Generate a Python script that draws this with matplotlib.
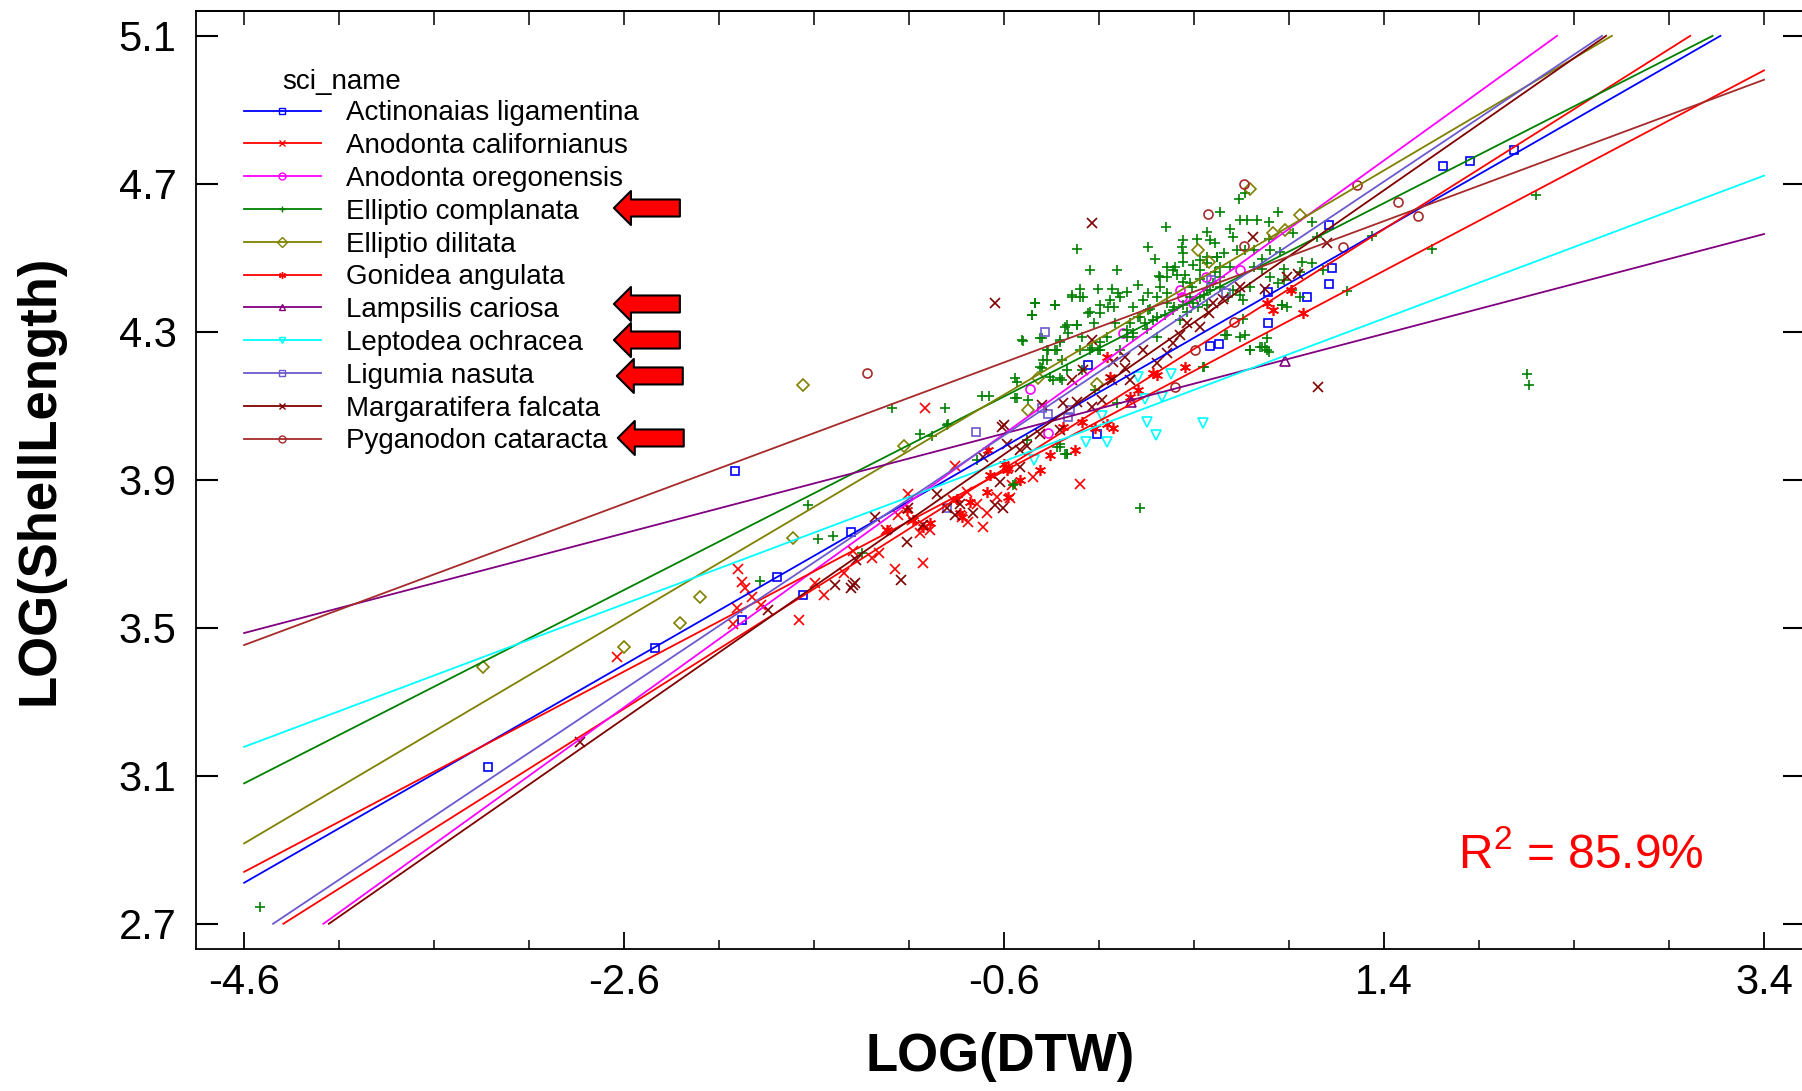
import matplotlib.pyplot as plt
from matplotlib.lines import Line2D
from matplotlib.ticker import FormatStrFormatter, NullFormatter
import numpy as np

plt.rcParams['font.family'] = ['Liberation Sans', 'DejaVu Sans']
plt.rcParams['axes.unicode_minus'] = False
plt.rcParams['mathtext.fontset'] = 'custom'
plt.rcParams['mathtext.rm'] = 'Liberation Sans'

# species, styles and fitted lines (intercept at LOG(DTW)=0, slope)
species = ['Actinonaias ligamentina', 'Anodonta californianus', 'Anodonta oregonensis',
           'Elliptio complanata', 'Elliptio dilitata', 'Gonidea angulata',
           'Lampsilis cariosa', 'Leptodea ochracea', 'Ligumia nasuta',
           'Margaratifera falcata', 'Pyganodon cataracta']
colors = ['#0000FF', '#FF0000', '#FF00FF', '#008000', '#808000', '#FF0000',
          '#800080', '#00FFFF', '#6A5ACD', '#800000', '#A52A2A']
markers = ['s', 'x', 'o', '+', 'D', (6, 2, 0), '^', 'v', 's', 'x', 'o']
msizes = [6, 7.5, 6.5, 7, 6, 8, 7, 7, 6, 7.5, 6.5]
intercepts = [4.166, 4.124, 4.246, 4.282, 4.312, 4.086, 4.106, 4.066, 4.226, 4.183, 4.332]
slopes = [0.2946, 0.3241, 0.3696, 0.2614, 0.3032, 0.2708, 0.1348, 0.1930, 0.3431, 0.3570, 0.1910]

actinonaias = [(-3.316, 3.123), (-2.437, 3.446), (-2.016, 3.924), (-1.977, 3.521), (-1.795, 3.638),
               (-1.660, 3.588), (-1.405, 3.759), (-0.109, 4.025), (-0.158, 4.210), (0.484, 4.261),
               (0.532, 4.266), (0.789, 4.324), (0.789, 4.408), (0.993, 4.394), (1.109, 4.428),
               (1.126, 4.472), (1.109, 4.590), (1.709, 4.748), (1.853, 4.761), (2.084, 4.791)]
californianus = [(-2.638, 3.422), (-2.002, 3.659), (-1.978, 3.624), (-1.965, 3.607), (-1.928, 3.584),
                 (-2.005, 3.554), (-2.026, 3.509), (-1.882, 3.561), (-1.679, 3.521), (-1.549, 3.588),
                 (-1.595, 3.620), (-1.442, 3.647), (-1.396, 3.708), (-1.296, 3.690), (-1.256, 3.701),
                 (-1.221, 3.764), (-1.174, 3.658), (-1.028, 3.676), (-1.104, 3.863), (-1.014, 4.093),
                 (-0.858, 3.937), (-0.796, 3.868), (-0.788, 3.786), (-0.712, 3.773), (-0.691, 3.809),
                 (-0.446, 3.908), (-0.198, 3.888), (-0.989, 3.764), (-0.559, 3.886), (-1.158, 3.805),
                 (-0.823, 3.800), (-0.744, 3.836), (-0.639, 3.854), (-0.568, 3.850), (-0.867, 3.845),
                 (-1.086, 3.791), (-1.042, 3.755)]
oregonensis = [(-0.463, 4.146), (-0.370, 4.027), (0.024, 4.298), (0.326, 4.413), (0.335, 4.395),
               (0.396, 4.377), (0.462, 4.449), (0.642, 4.467)]
complanata = [(0.634, 4.658), (0.669, 4.674), (0.537, 4.624), (0.253, 4.584), (0.643, 4.602),
              (0.678, 4.602), (0.730, 4.602), (0.797, 4.597), (0.844, 4.624), (-0.217, 4.523),
              (0.155, 4.528), (0.344, 4.548), (0.335, 4.530), (0.341, 4.512), (0.341, 4.489),
              (0.414, 4.552), (0.467, 4.570), (0.485, 4.548), (0.511, 4.539), (0.590, 4.579),
              (0.607, 4.557), (0.625, 4.521), (0.669, 4.521), (0.713, 4.521), (0.757, 4.498),
              (0.800, 4.521), (0.853, 4.516), (1.020, 4.597), (1.046, 4.557), (0.967, 4.489),
              (1.020, 4.485), (1.335, 4.559), (1.204, 4.411), (0.862, 4.372), (0.783, 4.282),
              (0.774, 4.259), (0.695, 4.250), (0.757, 4.259), (0.792, 4.246), (0.669, 4.291),
              (0.564, 4.291), (0.660, 4.336), (0.450, 4.205), (0.116, 3.823), (-0.147, 4.467),
              (-0.007, 4.467), (-0.200, 4.417), (-0.103, 4.417), (-0.243, 4.395), (-0.186, 4.395),
              (-0.436, 4.377), (-0.331, 4.372), (-0.454, 4.345), (-0.156, 4.352), (-0.094, 4.350),
              (-0.129, 4.323), (-0.217, 4.318), (-0.279, 4.314), (-0.261, 4.296), (-0.191, 4.287),
              (-0.401, 4.282), (-0.305, 4.273), (-0.501, 4.275), (-0.375, 4.250), (-0.322, 4.250),
              (-0.147, 4.252), (-0.103, 4.250), (-0.375, 4.223), (-0.296, 4.223), (-0.401, 4.201),
              (-0.340, 4.169), (-0.296, 4.171), (-0.191, 4.196), (-0.533, 4.165), (-0.472, 4.117),
              (-0.533, 4.120), (-0.717, 4.126), (-0.677, 4.126), (-0.910, 4.093), (-1.045, 4.023),
              (-0.980, 4.018), (-0.893, 4.050), (-0.033, 4.417), (0.002, 4.404), (0.046, 4.408),
              (0.107, 4.426), (-0.051, 4.368), (0.011, 4.395), (0.081, 4.368), (0.160, 4.404),
              (0.204, 4.395), (0.256, 4.404), (0.221, 4.449), (0.195, 4.498), (0.256, 4.476),
              (0.300, 4.476), (0.213, 4.450), (0.309, 4.453), (0.353, 4.453), (0.379, 4.431),
              (0.432, 4.444), (0.397, 4.480), (0.432, 4.494), (0.467, 4.503), (0.520, 4.503),
              (0.555, 4.512), (0.537, 4.476), (0.511, 4.462), (0.590, 4.476), (0.607, 4.413),
              (0.643, 4.399), (0.581, 4.395), (0.537, 4.422), (0.485, 4.413), (0.450, 4.399),
              (0.379, 4.395), (0.344, 4.372), (0.292, 4.368), (0.248, 4.345), (0.186, 4.332),
              (0.142, 4.323), (0.107, 4.341), (0.160, 4.359), (0.081, 4.296), (0.046, 4.287),
              (0.064, 4.323), (-0.015, 4.323), (-0.059, 4.287), (0.011, 4.250), (-0.094, 4.273),
              (-0.024, 4.368), (-0.121, 4.142), (-0.542, 3.890), (-0.305, 3.998), (-0.270, 3.971),
              (-0.480, 4.007), (0.423, 4.368), (0.467, 4.372), (0.871, 4.440), (0.844, 4.431),
              (0.800, 4.449), (0.757, 4.471), (0.713, 4.476), (0.914, 4.413), (0.888, 4.368),
              (0.958, 4.395), (0.660, 4.386), (0.695, 4.422), (0.871, 4.471), (0.958, 4.462),
              (1.081, 4.467), (0.923, 4.566), (0.792, 4.552), (1.650, 4.523), (2.200, 4.671),
              (2.150, 4.186), (2.163, 4.156), (-1.630, 3.833), (-1.577, 3.740), (-1.498, 3.749),
              (-1.887, 3.626), (-1.189, 4.093), (-1.349, 3.701), (-4.516, 2.745), (-0.744, 3.953),
              (-0.551, 3.886), (-0.323, 3.989), (-0.279, 3.971), (-0.902, 4.048),
              (0.133, 4.386), (0.168, 4.363), (0.204, 4.341), (0.116, 4.341), (0.256, 4.377),
              (0.291, 4.359), (0.326, 4.332), (0.361, 4.354), (0.397, 4.377), (0.432, 4.395),
              (0.467, 4.413), (0.502, 4.431), (0.537, 4.449), (0.221, 4.422), (0.256, 4.449),
              (0.291, 4.467), (0.344, 4.435), (0.388, 4.422), (0.432, 4.467), (0.467, 4.485),
              (0.519, 4.503), (0.204, 4.287), (0.151, 4.309), (0.081, 4.287), (0.046, 4.305),
              (-0.042, 4.386), (-0.095, 4.372), (-0.147, 4.354), (-0.200, 4.395), (-0.244, 4.399),
              (-0.437, 4.377), (-0.332, 4.372), (-0.454, 4.345), (-0.507, 4.278), (-0.410, 4.282),
              (-0.270, 4.318), (-0.217, 4.318), (-0.305, 4.278), (-0.367, 4.251), (-0.332, 4.251),
              (-0.393, 4.224), (-0.358, 4.179), (-0.305, 4.174), (-0.270, 4.197), (-0.200, 4.251),
              (-0.139, 4.255), (-0.095, 4.251), (-0.410, 4.206), (-0.542, 4.174), (-0.542, 4.120),
              (-0.305, 3.989), (-0.270, 3.971), (-0.007, 4.107), (0.449, 4.206), (0.572, 4.291),
              (0.642, 4.287), (0.695, 4.251), (0.747, 4.260), (0.783, 4.251), (0.861, 4.372)]
dilitata = [(-3.344, 3.393), (-2.600, 3.447), (-2.305, 3.512), (-2.200, 3.584), (-1.712, 3.742),
            (-1.657, 4.156), (-1.128, 3.992), (-0.472, 4.090), (-0.419, 4.174), (-0.112, 4.159),
            (0.423, 4.522), (0.476, 4.489), (0.695, 4.687), (0.818, 4.566), (0.879, 4.575),
            (0.958, 4.615)]
gonidea = [(-1.077, 3.791), (-0.989, 3.782), (-1.217, 3.764), (-1.112, 3.818), (-1.025, 3.773),
           (-0.832, 3.809), (-0.779, 3.841), (-0.691, 3.868), (-0.674, 3.913), (-0.683, 3.980),
           (-0.586, 3.926), (-0.577, 3.854), (-0.577, 3.931), (-0.603, 3.944), (-0.288, 4.043),
           (-0.191, 4.057), (-0.121, 4.039), (-0.025, 4.039), (-0.060, 4.052), (-0.042, 4.178),
           (0.063, 4.124), (-0.060, 4.232), (0.107, 4.142), (0.186, 4.188), (0.204, 4.183),
           (0.353, 4.204), (0.817, 4.359), (0.782, 4.377), (0.911, 4.413), (0.975, 4.350),
           (-0.849, 3.848), (-0.823, 3.800), (-0.516, 3.899), (-0.411, 3.926), (-0.358, 3.967),
           (-0.226, 3.980)]
lampsilis = [(0.068, 4.110), (0.877, 4.222)]
leptodea = [(-0.440, 3.953), (-0.170, 4.001), (-0.060, 4.001), (-0.086, 4.072), (0.105, 4.178),
            (0.142, 4.118), (0.151, 4.055), (0.200, 4.020), (0.230, 4.124), (0.277, 4.186),
            (0.447, 4.054)]
ligumia = [(-0.902, 3.823), (-0.747, 4.030), (-0.402, 4.093), (-0.370, 4.078), (-0.384, 4.300),
           (-0.261, 4.071), (-0.253, 4.089), (0.490, 4.440), (0.570, 4.404)]
margaritifera = [(-2.832, 3.192), (-1.841, 3.548), (-1.489, 3.615), (-1.396, 3.615), (-1.385, 3.622),
                 (-1.405, 3.608), (-1.379, 3.682), (-1.279, 3.800), (-1.144, 3.629), (-1.112, 3.732),
                 (-1.104, 3.825), (-1.025, 3.778), (-0.954, 3.863), (-0.902, 3.823), (-0.858, 3.806),
                 (-0.832, 3.836), (-0.762, 3.809), (-0.647, 3.832), (-0.621, 3.895), (-0.604, 3.823),
                 (-0.516, 3.935), (-0.481, 3.991), (-0.612, 4.043), (-0.709, 3.962), (-0.411, 4.025),
                 (-0.305, 4.034), (-0.647, 4.378), (-0.139, 4.595), (1.054, 4.151), (1.098, 4.539),
                 (0.709, 4.555), (0.949, 4.456), (0.888, 4.449), (0.774, 4.417), (0.642, 4.420),
                 (0.554, 4.388), (0.500, 4.377), (0.476, 4.350), (0.432, 4.313), (0.362, 4.323),
                 (0.326, 4.291), (0.291, 4.269), (0.256, 4.242), (0.204, 4.215), (-0.603, 4.048),
                 (-0.402, 4.102), (-0.288, 4.107), (-0.218, 4.111), (-0.139, 4.097), (-0.086, 4.115),
                 (-0.025, 4.219), (0.037, 4.201), (0.063, 4.169), (0.133, 4.251), (-0.586, 3.998),
                 (-0.516, 3.980), (-0.244, 4.169), (-0.183, 4.196), (-0.139, 4.278), (-0.032, 4.169),
                 (0.038, 4.232)]
pyganodon = [(-1.324, 4.190), (0.300, 4.151), (0.405, 4.250), (0.472, 4.618), (0.612, 4.327),
             (0.665, 4.700), (0.665, 4.532), (1.182, 4.528), (1.256, 4.696), (1.473, 4.651),
             (1.580, 4.613)]

points = [actinonaias, californianus, oregonensis, complanata, dilitata, gonidea,
          lampsilis, leptodea, ligumia, margaritifera, pyganodon]

x_ticks = [-4.6, -2.6, -0.6, 1.4, 3.4]
y_ticks = [2.7, 3.1, 3.5, 3.9, 4.3, 4.7, 5.1]

fig = plt.figure(figsize=(18.02, 10.91), dpi=100)
ax = fig.add_axes([0.1088, 0.1302, 0.8929, 0.8600])

# scatter of every species
for pts, c, m, ms in zip(points, colors, markers, msizes):
    xy = np.array(pts)
    ax.plot(xy[:, 0], xy[:, 1], ls='none', marker=m, ms=ms, mfc='none',
            mec=c, mew=1.2)

# fitted lines, drawn over the plotting range
for a, b, c in zip(intercepts, slopes, colors):
    x0 = max(x_ticks[0], (y_ticks[0] - a) / b)
    x1 = min(x_ticks[-1], (y_ticks[-1] - a) / b)
    xs = np.array([x0, x1])
    ax.plot(xs, a + b * xs, color=c, lw=1.3)

ax.set_xlim(-4.853, 3.616)
ax.set_ylim(2.632, 5.168)
ax.set_xticks(x_ticks)
ax.set_xticks(np.arange(-4.6, 3.45, 0.5), minor=True)
ax.set_yticks(y_ticks)
ax.xaxis.set_major_formatter(FormatStrFormatter('%.1f'))
ax.yaxis.set_major_formatter(FormatStrFormatter('%.1f'))
ax.tick_params(axis='x', which='major', direction='in', length=12, width=1.3,
               labelsize=30, pad=10, top=False)
ax.tick_params(axis='x', which='minor', direction='in', length=6.5, width=1.1, top=False)
ax.tick_params(axis='y', direction='in', length=16, width=1.5, labelsize=30,
               pad=14, right=True)
for s in ax.spines.values():
    s.set_linewidth(1.3)

top = ax.secondary_xaxis('top')
top.set_xticks(np.arange(-4.6, 3.45, 0.5))
top.xaxis.set_major_formatter(NullFormatter())
top.tick_params(direction='in', length=10, width=1.1)
top.spines['top'].set_linewidth(1.3)

ax.set_xlabel('LOG(DTW)', fontsize=38, fontweight='bold')
ax.xaxis.set_label_coords(0.5, -0.0885)
ax.set_ylabel('LOG(ShellLength)', fontsize=38, fontweight='bold')
ax.yaxis.set_label_coords(-0.0816, 0.5)

# legend
handles = [Line2D([], [], color=c, marker=m, ms=5, mfc='none', mec=c, mew=1, lw=1.3)
           for c, m in zip(colors, markers)]
ax.legend(handles, species, loc='upper left', bbox_to_anchor=(0.0299, 0.9045),
          frameon=False, fontsize=20, handlelength=2.75, handletextpad=0.9,
          labelspacing=0.245, borderpad=0, borderaxespad=0)
ax.text(0.0535, 0.924, 'sci_name', fontsize=20, va='center', transform=ax.transAxes)

# red call-out arrows
arrow_y = [0.7897, 0.6874, 0.6490, 0.6107, 0.5446]
arrow_x = [0.2597, 0.2597, 0.2597, 0.2615, 0.2621]
for ax_, ay in zip(arrow_x, arrow_y):
    ax.annotate('', xy=(ax_, ay), xytext=(ax_ + 0.041, ay), xycoords='axes fraction',
                arrowprops=dict(arrowstyle='simple,head_length=0.5,head_width=1.0,tail_width=0.5',
                                mutation_scale=24.5, fc='#FF0000', ec='black', lw=1.5,
                                shrinkA=0, shrinkB=0))

ax.text(0.784, 0.0863, r'R$^{2}$ = 85.9%', color='#FF0000', fontsize=34.5,
        va='baseline', ha='left', transform=ax.transAxes)

fig.savefig('out.png', dpi=100)
